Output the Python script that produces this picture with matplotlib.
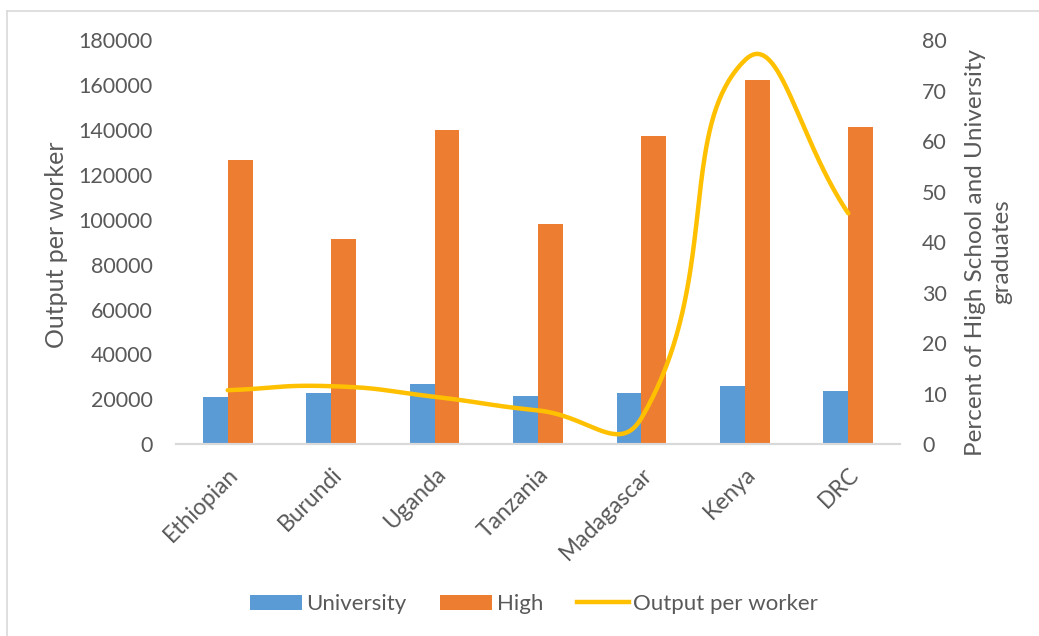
import numpy as np
import matplotlib
matplotlib.use("Agg")
import matplotlib.pyplot as plt
from matplotlib.lines import Line2D
from matplotlib.patches import Patch

countries = ["Ethiopian", "Burundi", "Uganda", "Tanzania", "Madagascar", "Kenya", "DRC"]
university = [21200, 22700, 26700, 21700, 22700, 26100, 23900]
high = [126700, 91600, 140100, 98000, 137300, 162200, 141400]
output_per_worker = [10.7, 11.5, 9.4, 6.7, 5.2, 76.0, 45.7]

BLUE = "#5B9BD5"
ORANGE = "#ED7D31"
GOLD = "#FFC000"
TEXT = "#595959"
GRID = "#D9D9D9"

plt.rcParams["font.family"] = ["Lato", "DejaVu Sans"]

W, H, DPI = 1039, 636, 100
fig = plt.figure(figsize=(W / DPI, H / DPI), dpi=DPI)
fig.patch.set_facecolor("white")

left, right, top, bottom = 176, 900, 40, 444.3
ax = fig.add_axes([left / W, 1 - bottom / H, (right - left) / W, (bottom - top) / H])
ax2 = ax.twinx()

x = np.arange(len(countries))
bw = 0.24
ax.bar(x - bw / 2, university, bw, color=BLUE, zorder=2)
ax.bar(x + bw / 2, high, bw, color=ORANGE, zorder=2)

ax.set_xlim(-0.5, len(countries) - 0.5)
ax.set_ylim(0, 180000)
ax.set_yticks(np.arange(0, 180001, 20000))
ax.set_yticklabels([str(v) for v in range(0, 180001, 20000)])
ax2.set_ylim(0, 80)
ax2.set_yticks(np.arange(0, 81, 10))


def smooth_curve(axis, px, py, s=0.5, n=80):
    """Smoothed line through the points: cubic Bezier segments whose
    control handles follow the neighbour chord and are weighted by the
    on-screen lengths of the adjacent segments."""
    trans = axis.transData
    pts = trans.transform(np.column_stack([px, py]).astype(float))
    m = len(pts)
    lefts, rights = [], []
    for i in range(m):
        p_prev = pts[max(i - 1, 0)]
        p_next = pts[min(i + 1, m - 1)]
        d0 = np.hypot(*(pts[i] - p_prev))
        d1 = np.hypot(*(p_next - pts[i]))
        tang = p_next - p_prev
        tot = d0 + d1 if d0 + d1 > 0 else 1.0
        lefts.append(pts[i] - tang * s * d0 / tot)
        rights.append(pts[i] + tang * s * d1 / tot)
    out = []
    t = np.linspace(0, 1, n)[:, None]
    for i in range(m - 1):
        p1, c1, c2, p2 = pts[i], rights[i], lefts[i + 1], pts[i + 1]
        seg = ((1 - t) ** 3) * p1 + 3 * ((1 - t) ** 2) * t * c1 \
            + 3 * (1 - t) * t ** 2 * c2 + t ** 3 * p2
        out.append(seg if i == 0 else seg[1:])
    curve = trans.inverted().transform(np.vstack(out))
    return curve[:, 0], curve[:, 1]


sx, sy = smooth_curve(ax2, x, output_per_worker)
ax2.plot(sx, sy, color=GOLD, lw=3.2, solid_capstyle="round", zorder=3)

for a in (ax, ax2):
    for s in ("top", "right", "left"):
        a.spines[s].set_visible(False)
    a.spines["bottom"].set_color(GRID)
    a.spines["bottom"].set_linewidth(1.5)
    a.tick_params(axis="both", length=0, colors=TEXT, labelsize=15.5)

ax.tick_params(axis="y", pad=17)
ax2.tick_params(axis="y", pad=16)
ax.set_xticks(x)
ax.set_xticklabels(countries, rotation=45, ha="right", rotation_mode="anchor",
                   fontsize=16.5, color=TEXT)
ax.tick_params(axis="x", pad=14)

ax.set_ylabel("Output per worker", fontsize=18, color=TEXT,
              ha="center", va="center")
ax.yaxis.set_label_coords((57 - left) / (right - left), (bottom - 245) / (bottom - top))
ax2.set_ylabel("Percent of High School and University\ngraduates", fontsize=17.5,
               color=TEXT, rotation=90, linespacing=1.3, ha="center", va="center")
ax2.yaxis.set_label_coords((989 - left) / (right - left), (bottom - 252) / (bottom - top))

handles = [
    Patch(facecolor=BLUE, label="University"),
    Patch(facecolor=ORANGE, label="High"),
    Line2D([0], [0], color=GOLD, lw=3.2, label="Output per worker"),
]
fig.legend(handles=handles, loc="center", bbox_to_anchor=(534 / W, 1 - 604 / H),
           ncol=3, frameon=False, fontsize=16, labelcolor=TEXT,
           handlelength=2.35, handleheight=0.65, handletextpad=0.2,
           columnspacing=1.5)

# Chart frame edges
fig.add_artist(Line2D([7 / W, 7 / W], [0, 1 - 11 / H], color=GRID, lw=1.2))
fig.add_artist(Line2D([7 / W, 1], [1 - 11 / H, 1 - 11 / H], color=GRID, lw=1.2))

fig.savefig("out.png", dpi=DPI, facecolor="white")
